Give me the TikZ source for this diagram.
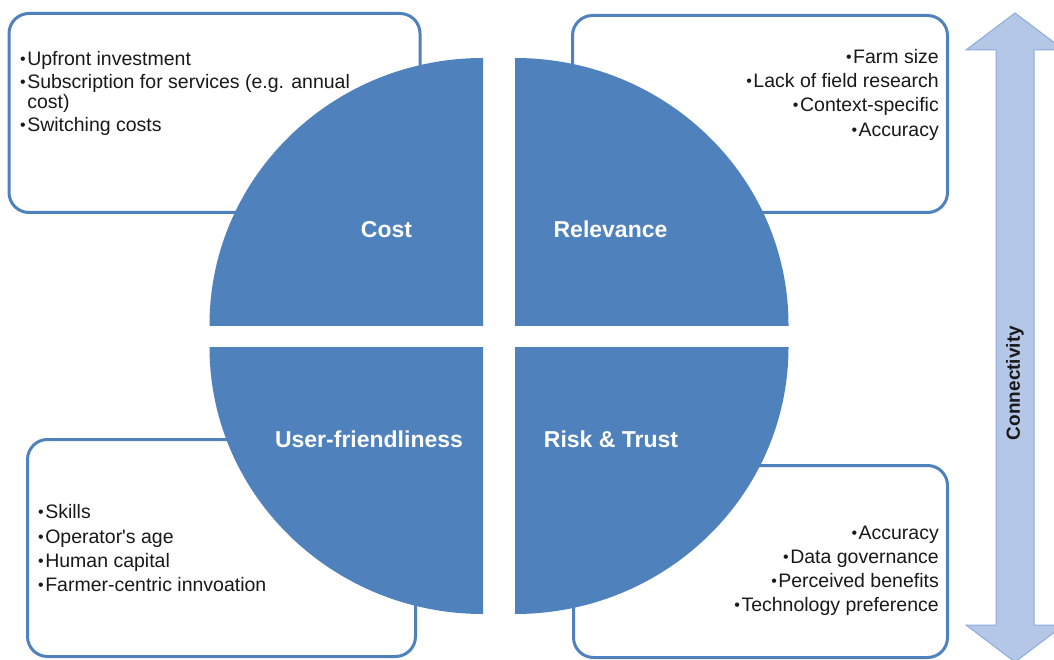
\documentclass[tikz,border=0pt]{standalone}
\usepackage{fontspec}
\setmainfont{Liberation Sans}
\definecolor{qblue}{HTML}{4F81BD}
\definecolor{afill}{HTML}{B4C7E7}
\definecolor{aline}{HTML}{8EAADB}
\newcommand{\mybul}{{\fontsize{16}{16}\selectfont\raisebox{1pt}{\textbullet}}\kern1.5pt}
\begin{document}
\begin{tikzpicture}[x=1pt,y=-1pt,
  infobox/.style={draw=qblue, line width=3pt, rounded corners=20pt, fill=white, inner sep=0pt},
  quad/.style={fill=qblue},
  quadlabel/.style={text=white, font=\bfseries\fontsize{23}{28}\selectfont, inner sep=0pt, anchor=base},
  item/.style={font=\fontsize{19.5}{23}\selectfont, inner sep=0pt, anchor=base west, text=black!90},
  ritem/.style={font=\fontsize{19.5}{23}\selectfont, inner sep=0pt, anchor=base east, text=black!90},
  arrowshape/.style={fill=afill, draw=aline, line width=1pt, line join=miter}
]
\useasboundingbox (0,0) rectangle (1054,660);

% connectivity double arrow
\fill[arrowshape] (1015,13) -- (1064,50) -- (1034,50) -- (1034,625) -- (1064,625) -- (1015,662)
  -- (966,625) -- (996,625) -- (996,50) -- (966,50) -- cycle;
\node[font=\bfseries\fontsize{19}{23}\selectfont, rotate=90, inner sep=0pt, text=black!90] (conn) at (1015,383) {Connectivity};

% information boxes
\node[infobox, minimum width=411pt, minimum height=199pt] (costbox) at (214.5,113) {};
\node[infobox, minimum width=375pt, minimum height=197pt] (relbox) at (760,114) {};
\node[infobox, minimum width=388pt, minimum height=217pt] (userbox) at (221.5,548) {};
\node[infobox, minimum width=374pt, minimum height=192pt] (riskbox) at (760.5,561.5) {};

% quadrants
\begin{scope}
  \clip (200,40) rectangle (483,325);
  \fill[quad] (483,325) ellipse [x radius=273.5, y radius=267];
\end{scope}
\begin{scope}
  \clip (515,40) rectangle (800,325);
  \fill[quad] (515,325) ellipse [x radius=273.5, y radius=267];
\end{scope}
\begin{scope}
  \clip (200,347) rectangle (483,630);
  \fill[quad] (483,347) ellipse [x radius=273.5, y radius=267];
\end{scope}
\begin{scope}
  \clip (515,347) rectangle (800,630);
  \fill[quad] (515,347) ellipse [x radius=273.5, y radius=267];
\end{scope}

% quadrant labels
\node[quadlabel] (cost) at (386.5,238) {Cost};
\node[quadlabel] (rel) at (610.5,238) {Relevance};
\node[quadlabel] (user) at (369,447) {User-friendliness};
\node[quadlabel] (risk) at (611,447) {Risk \& Trust};

% cost items
\node[item] (c1) at (20,65.5) {\mybul Upfront investment};
\node[item] (c2) at (20,89) {\mybul Subscription for services (e.g. annual};
\node[item] (c2b) at (27.2,109) {cost)};
\node[item] (c3) at (20,131.5) {\mybul Switching costs};

% relevance items
\node[ritem] (r1) at (939,64) {\mybul Farm size};
\node[ritem] (r2) at (939,88) {\mybul Lack of field research};
\node[ritem] (r3) at (939,112) {\mybul Context-specific};
\node[ritem] (r4) at (939,136.5) {\mybul Accuracy};

% user-friendliness items
\node[item] (u1) at (38,518.5) {\mybul Skills};
\node[item] (u2) at (38,543) {\mybul Operator\textquotesingle s age};
\node[item] (u3) at (38,567.5) {\mybul Human capital};
\node[item] (u4) at (38,591.5) {\mybul Farmer-centric innvoation};

% risk & trust items
\node[ritem] (k1) at (939,539) {\mybul Accuracy};
\node[ritem] (k2) at (939,563) {\mybul Data governance};
\node[ritem] (k3) at (939,587) {\mybul Perceived benefits};
\node[ritem] (k4) at (939,611) {\mybul Technology preference};
\end{tikzpicture}
\end{document}
